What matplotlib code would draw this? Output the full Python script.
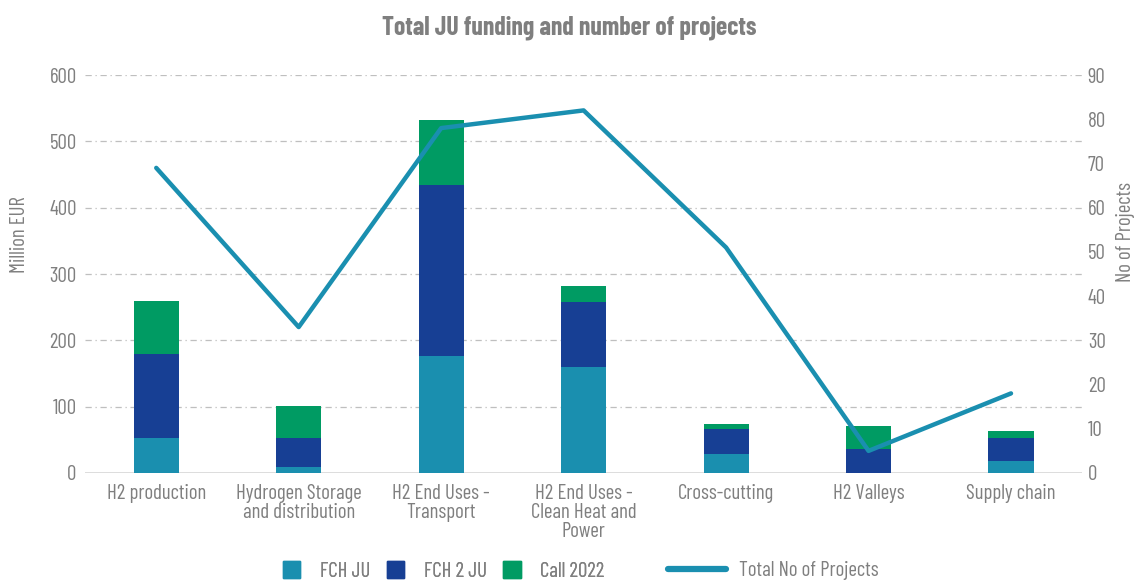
import numpy as np
import matplotlib
matplotlib.use("Agg")
import matplotlib.pyplot as plt
from matplotlib.patches import Patch
from matplotlib.lines import Line2D

plt.rcParams["font.family"] = ["Barlow Condensed", "DejaVu Sans"]

# ---------- data ----------
categories = ["H2 production", "Hydrogen Storage\nand distribution", "H2 End Uses -\nTransport",
              "H2 End Uses -\nClean Heat and\nPower", "Cross-cutting", "H2 Valleys", "Supply chain"]
fch_ju = [53, 9, 176, 160, 28, 0, 18]
fch2_ju = [127, 44, 258, 98, 38, 36, 35]
call_2022 = [79, 48, 98, 24, 8, 35, 10]
n_projects = [69, 33, 78, 82, 51, 5, 18]
left_ticks = [0, 100, 200, 300, 400, 500, 600]
right_ticks = [0, 10, 20, 30, 40, 50, 60, 70, 80, 90]

C_FCH = "#1A8FAF"
C_FCH2 = "#173F94"
C_CALL = "#009B63"
C_LINE = "#1A8FB0"
TXT = "#7F7F7F"
FS = 15
W, H = 1138, 583

fig = plt.figure(figsize=(W / 100, H / 100), dpi=100)
ax = fig.add_axes([0.0747, 0.1887, 0.8763, 0.6826])
ax2 = ax.twinx()

x = np.arange(len(categories))
w = 0.316
b1 = np.array(fch_ju)
b2 = b1 + np.array(fch2_ju)
ax.bar(x, fch_ju, w, color=C_FCH, zorder=3)
ax.bar(x, fch2_ju, w, bottom=b1, color=C_FCH2, zorder=3)
ax.bar(x, call_2022, w, bottom=b2, color=C_CALL, zorder=3)

ax2.plot(x, n_projects, color=C_LINE, linewidth=3.2, solid_capstyle="round", zorder=4)

ax.set_xlim(-0.5, len(categories) - 0.5)
ax.set_ylim(0, 600)
ax2.set_ylim(0, 90)
ax.set_yticks(left_ticks)
ax2.set_yticks(right_ticks)
ax.set_xticks(x)
ax.set_xticklabels(categories, linespacing=1.0, va="top")

for a in (ax, ax2):
    for s in ("top", "left", "right", "bottom"):
        a.spines[s].set_visible(False)
    a.tick_params(length=0, labelsize=FS, colors=TXT, pad=6)
ax.tick_params(axis="x", pad=8)
ax2.tick_params(axis="y", pad=4)
ax.axhline(0, color="#D9D9D9", linewidth=2, zorder=2)
for t in left_ticks[1:]:
    ax.axhline(t, color="#BFBFBF", linewidth=0.9, linestyle=(0, (5, 3, 1, 3)), zorder=1)

ax.set_ylabel("Million EUR", fontsize=FS, color=TXT)
ax.yaxis.set_label_coords(-0.056, 0.6)
ax2.set_ylabel("No of Projects", fontsize=FS, color=TXT, rotation=90)
ax2.yaxis.set_label_coords(1.034, 0.605)
fig.text(0.5, 0.953, "Total JU funding and number of projects", ha="center", va="center",
         fontsize=18.5, fontweight="bold", color=TXT)

# legend: squares for the bars, a longer line for the project count
y_leg = (H - 571) / H
sq = [Patch(color=C_FCH), Patch(color=C_FCH2), Patch(color=C_CALL)]
leg1 = fig.legend(sq, ["FCH JU", "FCH 2 JU", "Call 2022"], loc="center left",
                  bbox_to_anchor=(283 / W, y_leg), ncol=3, frameon=False, fontsize=FS,
                  labelcolor=TXT, handlelength=0.82, handleheight=0.82, columnspacing=0.8,
                  handletextpad=0.95, borderpad=0, borderaxespad=0)
fig.add_artist(leg1)
ln = [Line2D([0], [0], color=C_LINE, linewidth=4.5, solid_capstyle="round")]
fig.legend(ln, ["Total No of Projects"], loc="center left", bbox_to_anchor=(668 / W, y_leg),
           frameon=False, fontsize=FS, labelcolor=TXT, handlelength=2.8, handletextpad=0.6,
           borderpad=0, borderaxespad=0)

fig.savefig("out.png", dpi=100)
